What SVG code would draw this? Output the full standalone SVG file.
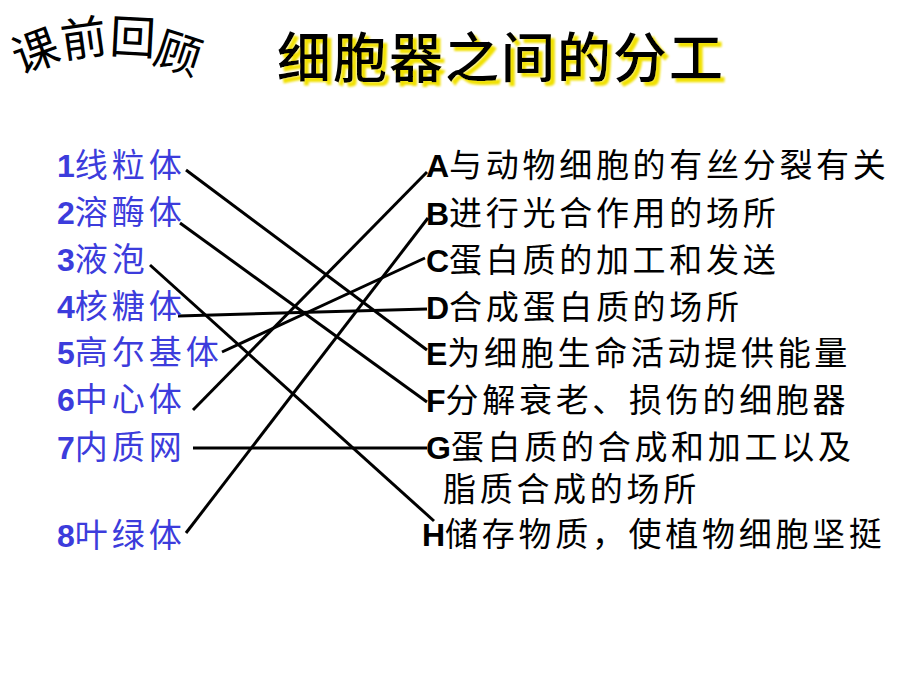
<svg xmlns="http://www.w3.org/2000/svg" width="920" height="690" viewBox="0 0 920 690">
<defs>
<filter id="yshadow" x="-5%" y="-20%" width="115%" height="150%">
<feGaussianBlur in="SourceAlpha" stdDeviation="1.2" result="b"/>
<feOffset in="b" dx="4" dy="4" result="o"/>
<feFlood flood-color="#f0e000"/>
<feComposite in2="o" operator="in" result="s"/>
<feMerge><feMergeNode in="s"/><feMergeNode in="SourceGraphic"/></feMerge>
</filter>
</defs>
<style>
.left{font-size:33px;fill:#3c3cdc}
.right{font-size:33px;fill:#000}
.num{font-family:"Liberation Sans","Noto Sans CJK SC",sans-serif;font-weight:bold;font-size:32px}
.zh{font-family:"Noto Sans CJK SC",sans-serif;letter-spacing:4px}
.zhr{font-family:"Noto Sans CJK SC",sans-serif;letter-spacing:3.7px}
.title{font-family:"Noto Sans CJK SC",sans-serif;font-size:54px;font-weight:500;letter-spacing:2px;fill:#000}
.arc{font-family:"Noto Sans CJK SC",sans-serif;font-size:46px;fill:#000}
.conn line{stroke:#000;stroke-width:3;stroke-linecap:butt}
</style>
<rect width="920" height="690" fill="#fff"/>
<g id="review">
<text class="arc" x="0" y="0" text-anchor="middle" transform="translate(41,67) rotate(-20)">课</text>
<text class="arc" x="0" y="0" text-anchor="middle" transform="translate(86,55) rotate(-8)">前</text>
<text class="arc" x="0" y="0" text-anchor="middle" transform="translate(132,54) rotate(3)">回</text>
<text class="arc" x="0" y="0" text-anchor="middle" transform="translate(173,69) rotate(18)">顾</text>
</g>
<g id="title">
<text class="title" x="277" y="78" filter="url(#yshadow)">细胞器之间的分工</text>
</g>
<g id="connectors" class="conn">
<line x1="186" y1="170" x2="427" y2="350"/>
<line x1="180" y1="223" x2="427" y2="402"/>
<line x1="150" y1="265" x2="434" y2="521"/>
<line x1="178" y1="316" x2="427" y2="309"/>
<line x1="222" y1="352" x2="425" y2="258"/>
<line x1="193" y1="410" x2="427" y2="172"/>
<line x1="193" y1="448" x2="427" y2="448"/>
<line x1="186" y1="533" x2="428" y2="218"/>
</g>
<g id="n1"><text class="left" x="57" y="177"><tspan class="num">1</tspan><tspan class="zh">线粒体</tspan></text></g>
<g id="n2"><text class="left" x="57" y="224"><tspan class="num">2</tspan><tspan class="zh">溶酶体</tspan></text></g>
<g id="n3"><text class="left" x="57" y="271"><tspan class="num">3</tspan><tspan class="zh">液泡</tspan></text></g>
<g id="n4"><text class="left" x="57" y="318"><tspan class="num">4</tspan><tspan class="zh">核糖体</tspan></text></g>
<g id="n5"><text class="left" x="57" y="364"><tspan class="num">5</tspan><tspan class="zh">高尔基体</tspan></text></g>
<g id="n6"><text class="left" x="57" y="411"><tspan class="num">6</tspan><tspan class="zh">中心体</tspan></text></g>
<g id="n7"><text class="left" x="57" y="459"><tspan class="num">7</tspan><tspan class="zh">内质网</tspan></text></g>
<g id="n8"><text class="left" x="57" y="547"><tspan class="num">8</tspan><tspan class="zh">叶绿体</tspan></text></g>
<g id="nA"><text class="right" x="426" y="177"><tspan class="num">A</tspan><tspan class="zhr">与动物细胞的有丝分裂有关</tspan></text></g>
<g id="nB"><text class="right" x="426" y="225"><tspan class="num">B</tspan><tspan class="zhr">进行光合作用的场所</tspan></text></g>
<g id="nC"><text class="right" x="426" y="272"><tspan class="num">C</tspan><tspan class="zhr">蛋白质的加工和发送</tspan></text></g>
<g id="nD"><text class="right" x="426" y="319"><tspan class="num">D</tspan><tspan class="zhr">合成蛋白质的场所</tspan></text></g>
<g id="nE"><text class="right" x="426" y="365"><tspan class="num">E</tspan><tspan class="zhr">为细胞生命活动提供能量</tspan></text></g>
<g id="nF"><text class="right" x="426" y="412"><tspan class="num">F</tspan><tspan class="zhr">分解衰老、损伤的细胞器</tspan></text></g>
<g id="nG"><text class="right" x="426" y="459"><tspan class="num">G</tspan><tspan class="zhr">蛋白质的合成和加工以及</tspan><tspan class="zhr" x="443" y="501">脂质合成的场所</tspan></text></g>
<g id="nH"><text class="right" x="422" y="546"><tspan class="num">H</tspan><tspan class="zhr">储存物质，使植物细胞坚挺</tspan></text></g>
</svg>
